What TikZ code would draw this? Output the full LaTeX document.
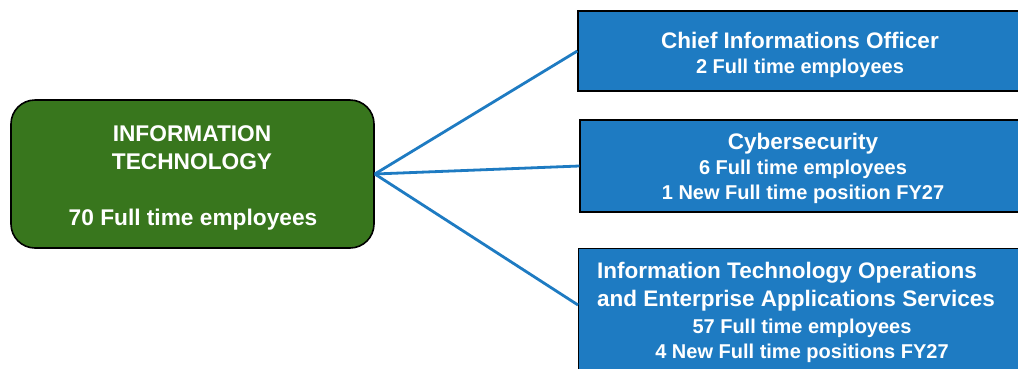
\documentclass[tikz,border=0pt]{standalone}
\usepackage{fontspec}
\setmainfont{Liberation Sans}
\definecolor{itgreen}{HTML}{38761D}
\definecolor{itblue}{HTML}{1E7BC2}
\begin{document}
\begin{tikzpicture}[x=1pt,y=-1pt,
  rootbox/.style={draw=black,line width=1.6pt,fill=itgreen,rounded corners=24pt,
    minimum width=363pt,minimum height=148pt,inner sep=0pt},
  unitbox/.style={draw=black,line width=1.3pt,fill=itblue,inner sep=0pt},
  lbl/.style={text=white,font=\bfseries,inner sep=0pt,anchor=base},
  big/.style={font=\bfseries\fontsize{22.7}{26}\selectfont},
  head/.style={font=\bfseries\fontsize{22.5}{26}\selectfont},
  sub/.style={font=\bfseries\fontsize{20}{24}\selectfont},
  link/.style={draw=itblue,line width=2.8pt}]
\clip (0,0) rectangle (1018,368);
\fill[white] (0,0) rectangle (1018,368);
\node[rootbox] (it) at (192.5,174) {};
\node[lbl,big] (it1) at (192,141) {INFORMATION};
\node[lbl,big] (it2) at (192,169) {TECHNOLOGY};
\node[lbl,big] (it3) at (193,225) {70 Full time employees};

\node[unitbox,minimum width=452pt,minimum height=80pt] (cio) at (804,51) {};
\node[lbl,head] (cio1) at (800,48) {Chief Informations Officer};
\node[lbl,sub] (cio2) at (800,73) {2 Full time employees};

\node[unitbox,minimum width=452pt,minimum height=92pt] (cyb) at (806,166) {};
\node[lbl,head] (cyb1) at (803,149) {Cybersecurity};
\node[lbl,sub] (cyb2) at (803,174) {6 Full time employees};
\node[lbl,sub] (cyb3) at (803,199) {1 New Full time position FY27};

\node[unitbox,minimum width=452pt,minimum height=140pt,anchor=north west] (ops) at (578,248) {};
\node[lbl,head,anchor=base west] (ops1) at (597,278) {Information Technology Operations};
\node[lbl,head,anchor=base west] (ops2) at (597,306) {and Enterprise Applications Services};
\node[lbl,sub] (ops3) at (802,333) {57 Full time employees};
\node[lbl,sub] (ops4) at (802,358) {4 New Full time positions FY27};

\draw[link] (it.east) -- (cio.west);
\draw[link] (it.east) -- (cyb.west);
\draw[link] (it.east) -- ([yshift=-57pt]ops.north west);
\end{tikzpicture}
\end{document}
